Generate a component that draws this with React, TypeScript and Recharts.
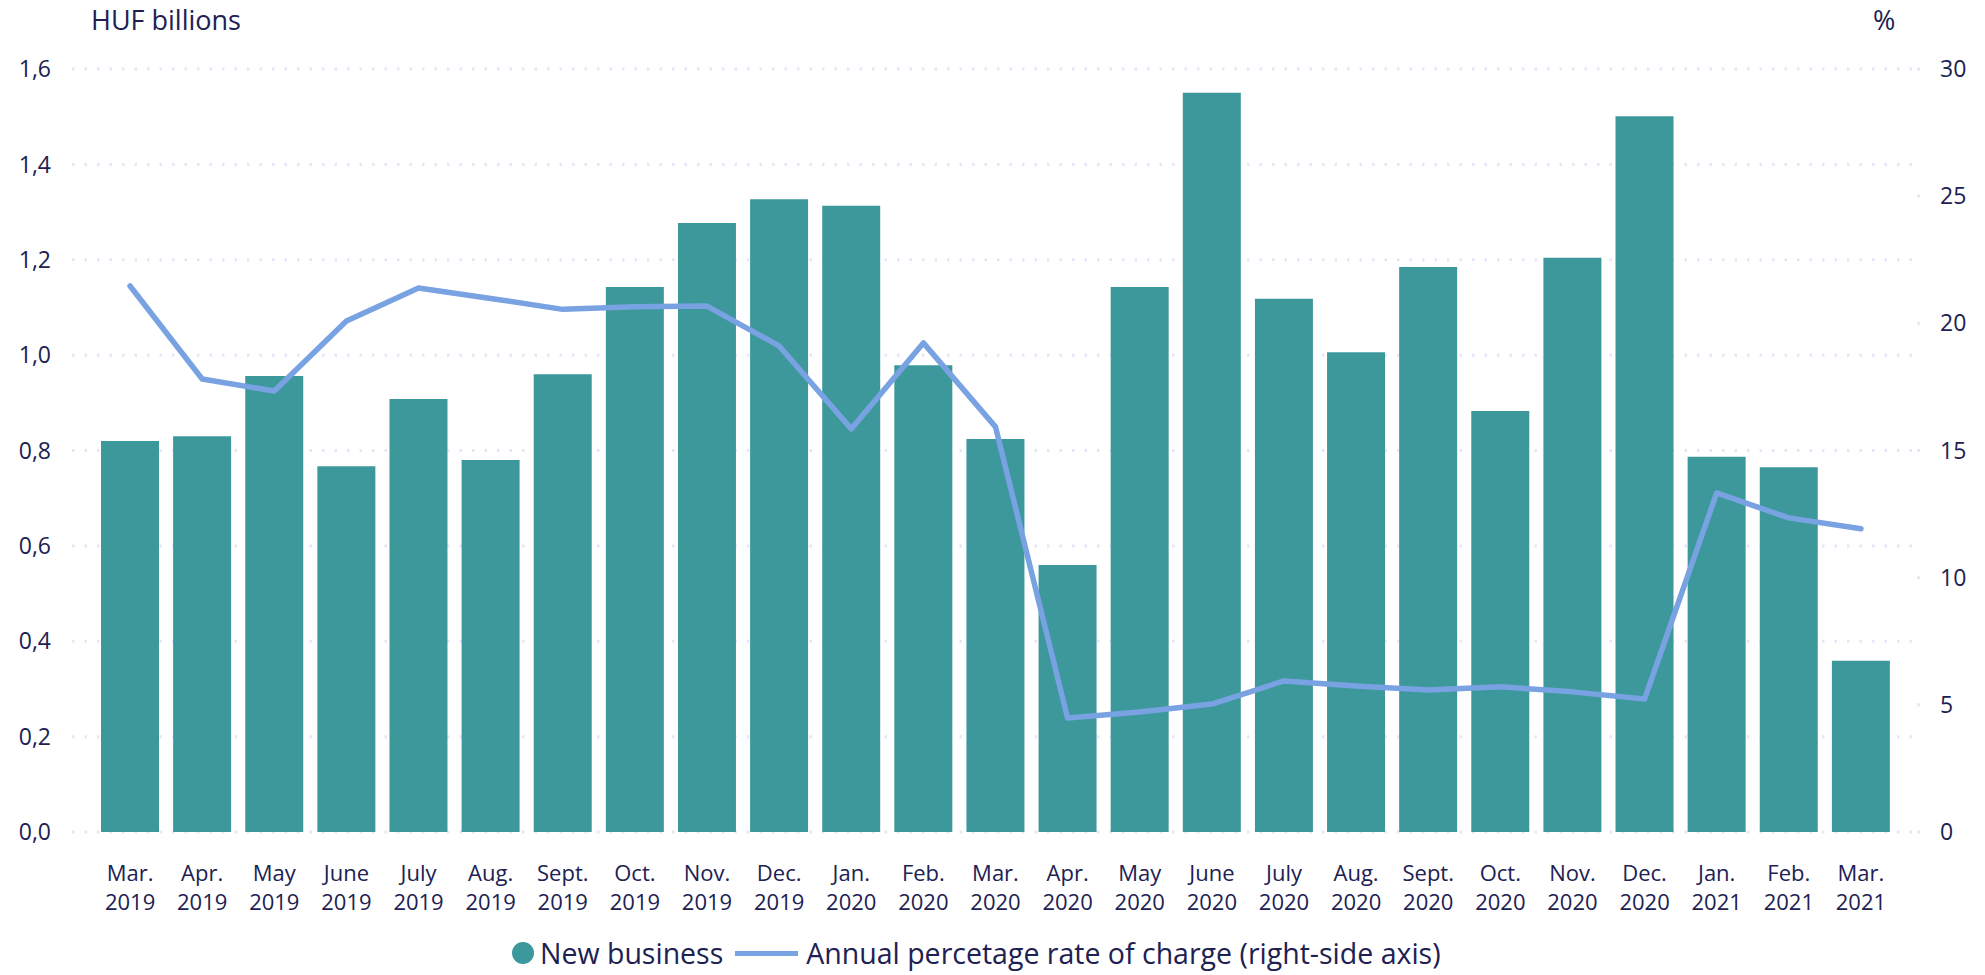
import React from 'react';
import { ComposedChart, Bar, Line, XAxis, YAxis, CartesianGrid, Legend } from 'recharts';

const months = ['Mar.', 'Apr.', 'May', 'June', 'July', 'Aug.', 'Sept.', 'Oct.', 'Nov.', 'Dec.', 'Jan.', 'Feb.', 'Mar.', 'Apr.', 'May', 'June', 'July', 'Aug.', 'Sept.', 'Oct.', 'Nov.', 'Dec.', 'Jan.', 'Feb.', 'Mar.'];
const years = ['2019', '2019', '2019', '2019', '2019', '2019', '2019', '2019', '2019', '2019', '2020', '2020', '2020', '2020', '2020', '2020', '2020', '2020', '2020', '2020', '2020', '2020', '2021', '2021', '2021'];
const newBusiness = [0.82, 0.83, 0.956, 0.767, 0.908, 0.78, 0.96, 1.143, 1.277, 1.327, 1.313, 0.979, 0.824, 0.56, 1.143, 1.55, 1.118, 1.006, 1.185, 0.883, 1.204, 1.501, 0.787, 0.765, 0.359];
const aprc = [21.47, 17.81, 17.34, 20.09, 21.39, 20.98, 20.55, 20.65, 20.68, 19.11, 15.85, 19.23, 15.93, 4.48, 4.72, 5.03, 5.94, 5.74, 5.58, 5.71, 5.51, 5.23, 13.33, 12.35, 11.92];
const leftTicks = [0, 0.2, 0.4, 0.6, 0.8, 1.0, 1.2, 1.4, 1.6];
const rightTicks = [0, 5, 10, 15, 20, 25, 30];

const barName = 'New business';
const lineName = 'Annual percetage rate of charge (right-side axis)';

const data = months.map((m, i) => ({
    key: `${m} ${years[i]} ${i}`,
    month: m,
    year: years[i],
    business: newBusiness[i],
    rate: aprc[i],
}));

const TEXT = '#202152';
const TEAL = '#3d989b';
const BLUE = '#78a2e2';
const GRID = '#e6e6f7';

const MonthTick = ({ x, y, payload }: any) => {
    const row = data[payload.index];
    return (
        <text x={x} y={y} textAnchor="middle" fill={TEXT} fontSize={22}>
            <tspan x={x} dy={47}>{row.month}</tspan>
            <tspan x={x} dy={29}>{row.year}</tspan>
        </text>
    );
};

const LegendContent = () => (
    <div style={{ display: 'flex', alignItems: 'center', paddingLeft: 512, fontSize: 28.5, color: TEXT, lineHeight: '36px' }}>
        <span style={{ width: 22, height: 22, borderRadius: 11, background: TEAL, display: 'inline-block', marginRight: 6 }} />
        <span>{barName}</span>
        <span style={{ width: 63, height: 5, background: BLUE, display: 'inline-block', margin: '0 8px 0 12px' }} />
        <span>{lineName}</span>
    </div>
);

export default function App() {
    return (
        <div style={{ position: 'absolute', left: 0, top: 0, width: 1985, height: 975, background: '#fff', fontFamily: '"Open Sans", sans-serif' }}>
            <div style={{ position: 'absolute', left: 91, top: 1, fontSize: 27, color: TEXT }}>HUF billions</div>
            <div style={{ position: 'absolute', left: 1873, top: 1, fontSize: 27, color: TEXT }}>%</div>
            <ComposedChart width={1985} height={975} data={data} margin={{ top: 69, right: 0, bottom: 83, left: 0 }}>
                <CartesianGrid yAxisId="left" vertical={false} stroke={GRID} strokeWidth={3} strokeDasharray="2.5 10" />
                <XAxis
                    dataKey="key"
                    interval={0}
                    height={60}
                    axisLine={false}
                    tickLine={false}
                    tickSize={0}
                    padding={{ left: 22, right: 20 }}
                    tick={<MonthTick />}
                />
                <YAxis
                    yAxisId="left"
                    width={72}
                    domain={[0, 1.6]}
                    ticks={leftTicks}
                    axisLine={false}
                    tickLine={false}
                    tickSize={0}
                    tickMargin={21}
                    tick={{ fill: TEXT, fontSize: 23 }}
                    tickFormatter={(v: number) => v.toFixed(1).replace('.', ',')}
                />
                <YAxis
                    yAxisId="right"
                    orientation="right"
                    width={68}
                    domain={[0, 30]}
                    ticks={rightTicks}
                    axisLine={false}
                    tickLine={{ stroke: GRID, strokeWidth: 3 }}
                    tickSize={3}
                    tickMargin={20}
                    tick={{ fill: TEXT, fontSize: 23, textAnchor: 'start' }}
                />
                <Bar yAxisId="left" dataKey="business" name={barName} fill={TEAL} barSize={58} isAnimationActive={false} />
                <Line
                    yAxisId="right"
                    dataKey="rate"
                    name={lineName}
                    type="linear"
                    stroke={BLUE}
                    strokeWidth={5.5}
                    strokeLinecap="round"
                    strokeLinejoin="round"
                    dot={false}
                    activeDot={false}
                    isAnimationActive={false}
                />
                <Legend
                    verticalAlign="middle"
                    align="center"
                    layout="horizontal"
                    content={<LegendContent />}
                    wrapperStyle={{ top: 935, left: 0, width: 1985 }}
                />
            </ComposedChart>
        </div>
    );
}
